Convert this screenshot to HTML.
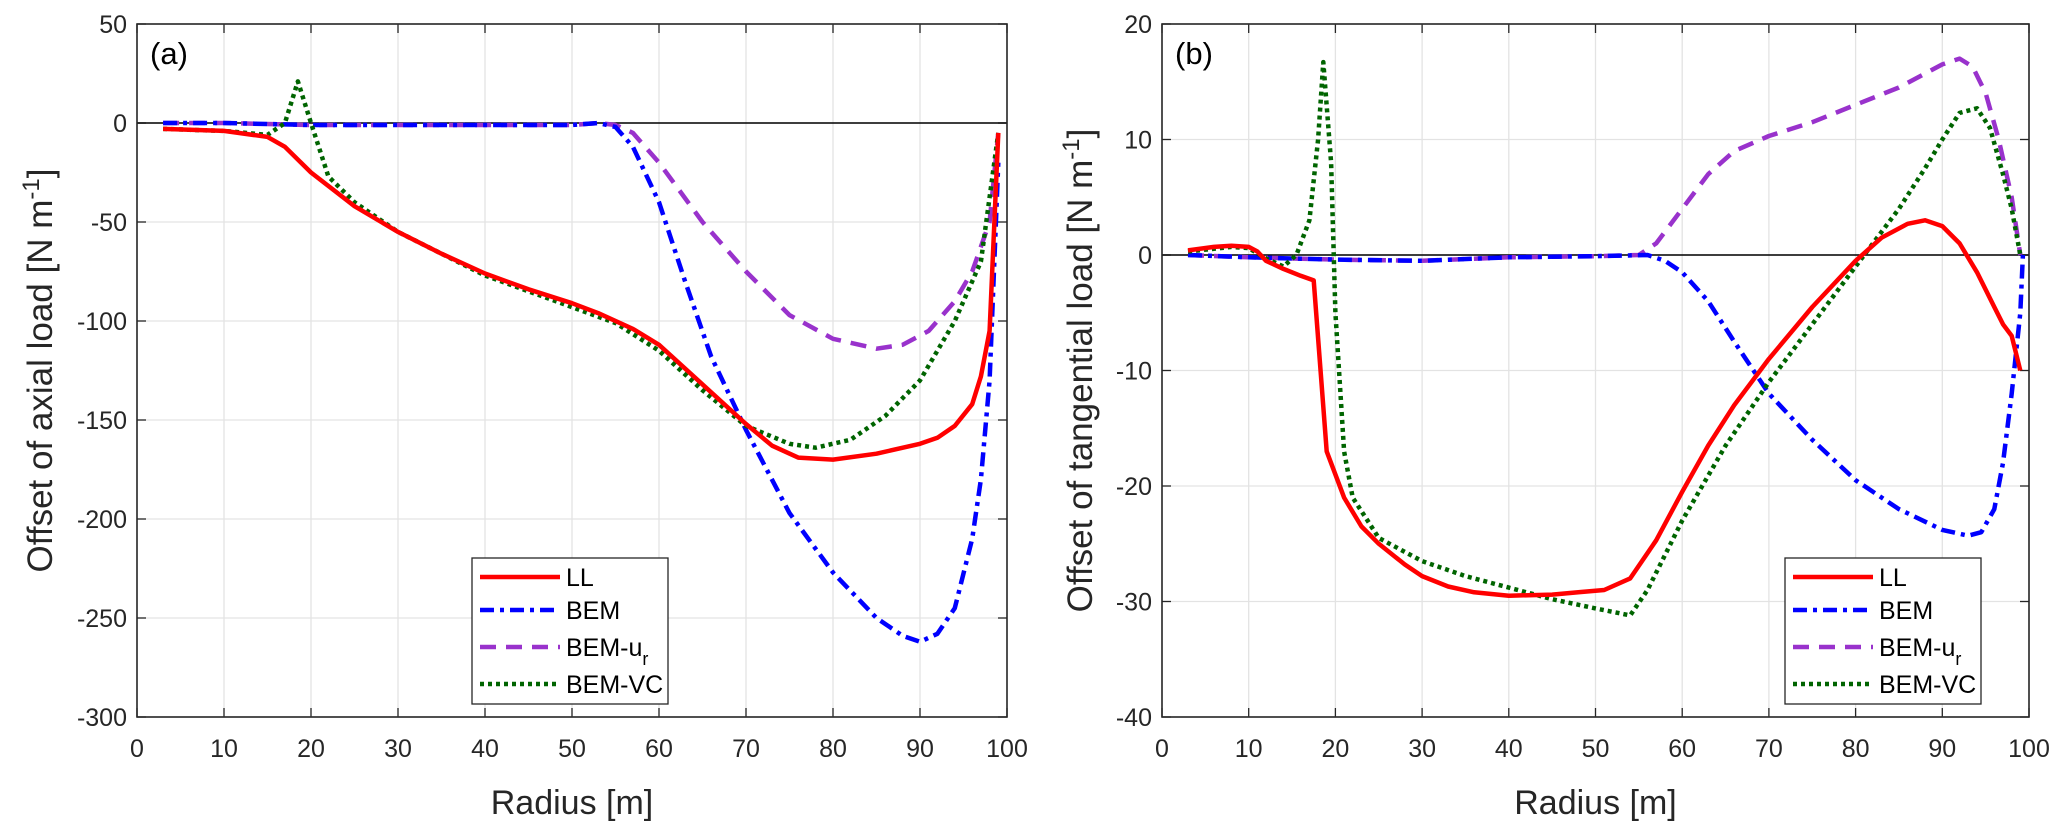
<!DOCTYPE html>
<html><head><meta charset="utf-8"><style>
html,body{margin:0;padding:0;background:#fff;overflow:hidden}
svg{display:block;font-family:"Liberation Sans",Arial,sans-serif}
</style></head><body>
<svg id="fig" width="2067" height="827" viewBox="0 0 2067 827"></svg>
<script>
// Panel (a) data
const xTicks = [0,10,20,30,40,50,60,70,80,90,100];
const aYTicks = [50,0,-50,-100,-150,-200,-250,-300];
const bYTicks = [20,10,0,-10,-20,-30,-40];
const aLL_x = [3,10,15,17,20,25,30,35,40,45,50,53,57,60,65,70,73,76,80,85,90,92,94,96,97,98,99];
const aLL_y = [-3,-4,-7,-12,-25,-42,-55,-66,-76,-84,-91,-96,-104,-112,-132,-152,-163,-169,-170,-167,-162,-159,-153,-142,-128,-105,-5];
const aBEM_x = [3,10,20,30,40,50,53,55,57,60,63,66,70,75,80,85,88,90,92,94,96,97,98,99];
const aBEM_y = [0,0,-1,-1,-1,-1,0,-2,-12,-40,-80,-118,-155,-197,-227,-250,-259,-262,-258,-245,-210,-180,-130,-20];
const aUR_x = [3,10,20,30,40,50,53,55,57,60,65,70,75,80,85,88,91,94,96,98,99];
const aUR_y = [0,0,-1,-1,-1,-1,0,-1,-5,-20,-50,-75,-97,-109,-114,-112,-105,-90,-75,-50,-5];
const aVC_x = [3,10,15,17,18.5,20,22,25,30,40,50,55,60,65,70,75,78,82,86,90,94,97,99];
const aVC_y = [-3,-4,-6,0,21,0,-27,-40,-55,-77,-93,-101,-115,-135,-153,-162,-164,-160,-148,-130,-100,-70,-5];
// Panel (b) data
const bLL_x = [3,6,8,10,11,12,14,16,17.5,19,21,23,25,28,30,33,36,40,45,48,51,54,57,60,63,66,70,75,80,83,86,88,90,92,94,96,97,98,99];
const bLL_y = [0.4,0.7,0.8,0.7,0.3,-0.5,-1.2,-1.8,-2.2,-17,-21,-23.5,-25,-26.8,-27.8,-28.7,-29.2,-29.5,-29.4,-29.2,-29,-28,-24.7,-20.5,-16.5,-13,-9,-4.5,-0.5,1.5,2.7,3,2.5,1,-1.5,-4.5,-6,-7,-10];
const bBEM_x = [3,10,20,30,40,50,56,58,60,63,66,70,75,80,85,90,93,94.5,96,97,98,99,99.3];
const bBEM_y = [0,-0.2,-0.4,-0.5,-0.2,-0.1,0,-0.5,-1.5,-4,-7.5,-12,-16,-19.5,-22,-23.8,-24.3,-24,-22,-18,-12,-5,0];
const bUR_x = [3,10,20,30,40,50,55,57,60,63,66,70,75,80,85,90,92,93.5,95,96.5,98,99];
const bUR_y = [0,-0.2,-0.4,-0.5,-0.2,-0.1,0,1,4,7,9,10.3,11.5,13,14.5,16.5,17,16.3,14,10,5,0];
const bVC_x = [3,8,10,12,14,15.5,17,18,18.6,19.5,20,21,22,25,30,35,40,45,50,54,56,60,65,70,75,80,85,88,90,92,94,95.5,97,98,99];
const bVC_y = [0.3,0.7,0.6,-0.3,-1,0,3,10,16.7,8,-5,-17,-21,-24.5,-26.5,-27.8,-28.8,-29.8,-30.6,-31.2,-29,-23,-16.5,-11,-6,-1,4,7.5,10,12.3,12.7,11,7,4,0];

const NS="http://www.w3.org/2000/svg";
const svg=document.getElementById('fig');
function mk(tag,attrs,parent){const e=document.createElementNS(NS,tag);for(const k in attrs)e.setAttribute(k,attrs[k]);(parent||svg).appendChild(e);return e;}

function panel(cfg){
  const g=mk('g',{});
  
  
  const X0=cfg.x0,X1=cfg.x1,Y0=24,Y1=717;
  const ymax=cfg.yTicks[0],ymin=cfg.yTicks[cfg.yTicks.length-1];
  const sx=v=>X0+(v-0)/100*(X1-X0);
  const sy=v=>Y0+(ymax-v)/(ymax-ymin)*(Y1-Y0);
  mk('rect',{x:X0,y:Y0,width:X1-X0,height:Y1-Y0,fill:'#fff'},g);
  xTicks.forEach(t=>{
    const l=mk('line',{x1:sx(t),x2:sx(t),y1:Y0,y2:Y1,stroke:'#e3e3e3','stroke-width':1.3},g);
    
    
    mk('line',{x1:sx(t),x2:sx(t),y1:Y1,y2:Y1-9,stroke:'#262626','stroke-width':1.3},g);
    mk('line',{x1:sx(t),x2:sx(t),y1:Y0,y2:Y0+9,stroke:'#262626','stroke-width':1.3},g);
    const tx=mk('text',{x:sx(t),y:Y1+40,'font-size':25,'text-anchor':'middle',fill:'#262626'},g);
    tx.textContent=t;
    
    
  });
  cfg.yTicks.forEach(t=>{
    const l=mk('line',{x1:X0,x2:X1,y1:sy(t),y2:sy(t),stroke:'#e3e3e3','stroke-width':1.3},g);
    
    
    mk('line',{x1:X0,x2:X0+9,y1:sy(t),y2:sy(t),stroke:'#262626','stroke-width':1.3},g);
    mk('line',{x1:X1,x2:X1-9,y1:sy(t),y2:sy(t),stroke:'#262626','stroke-width':1.3},g);
    const tx=mk('text',{x:X0-10,y:sy(t)+9,'font-size':25,'text-anchor':'end',fill:'#262626'},g);
    tx.textContent=t;
    
    
  });
  const z=mk('line',{x1:X0,x2:X1,y1:sy(0),y2:sy(0),stroke:'#000','stroke-width':1.5},g);
  
  
  const styles=[
    {c:'#ff0000',d:'',n:'series-ll'},
    {c:'#0000ff',d:'14 6 4 6',n:'series-bem'},
    {c:'#9932cc',d:'16 10',n:'series-bem-ur'},
    {c:'#006400',d:'4 4',n:'series-bem-vc'}];
  const order=[2,1,3,0];
  order.forEach(i=>{
    const s=cfg.series[i],st=styles[i];
    const pts=s[0].map((x,k)=>sx(x).toFixed(1)+','+sy(s[1][k]).toFixed(1)).join(' ');
    const p=mk('polyline',{points:pts,fill:'none',stroke:st.c,'stroke-width':4.5,'stroke-dasharray':st.d,'stroke-linejoin':'round'},g);
    
    
  });
  mk('rect',{x:X0,y:Y0,width:X1-X0,height:Y1-Y0,fill:'none',stroke:'#262626','stroke-width':1.6},g);
  const lab=mk('text',{x:X0+13,y:Y0+40,'font-size':31,fill:'#000'},g);
  lab.textContent=cfg.label;
  
  
  const xt=mk('text',{x:(X0+X1)/2,y:814,'font-size':34,'text-anchor':'middle',fill:'#262626'},g);
  xt.textContent='Radius [m]';
  
  
  const yt=mk('text',{x:0,y:0,'font-size':35,'text-anchor':'middle',fill:'#262626',transform:`translate(${cfg.ytx},${(Y0+Y1)/2}) rotate(-90)`},g);
  
  
  yt.appendChild(document.createTextNode(cfg.ytitle+' [N m'));
  const sup=mk('tspan',{dy:-13,'font-size':24},yt); sup.textContent='-1';
  const cl=mk('tspan',{dy:13},yt); cl.textContent=']';
  // legend
  const L=mk('g',{},g);
  
  
  const lx=cfg.lx,ly=558,lw=196,lh=146;
  mk('rect',{x:lx,y:ly,width:lw,height:lh,fill:'#fff',stroke:'#262626','stroke-width':1.3},L);
  const names=['LL','BEM','BEM-u','BEM-VC'];
  const rows=[19,52,89,126];
  names.forEach((n,i)=>{
    const yy=ly+rows[i];
    const ln=mk('line',{x1:lx+8,x2:lx+88,y1:yy,y2:yy,stroke:styles[i].c,'stroke-width':4.5,'stroke-dasharray':styles[i].d},L);
    
    
    const t=mk('text',{x:lx+94,y:yy+9,'font-size':25,fill:'#000'},L);
    t.textContent=n;
    
    
    if(i==2){const sb=mk('tspan',{dy:9,'font-size':18},t);sb.textContent='r';}
  });
}
panel({name:'panel-a',x0:137,x1:1007,yTicks:aYTicks,label:'(a)',ytitle:'Offset of axial load',ytx:52,lx:472,
  series:[[aLL_x,aLL_y],[aBEM_x,aBEM_y],[aUR_x,aUR_y],[aVC_x,aVC_y]]});
panel({name:'panel-b',x0:1162,x1:2029,yTicks:bYTicks,label:'(b)',ytitle:'Offset of tangential load',ytx:1092,lx:1785,
  series:[[bLL_x,bLL_y],[bBEM_x,bBEM_y],[bUR_x,bUR_y],[bVC_x,bVC_y]]});
</script>
</body></html>
